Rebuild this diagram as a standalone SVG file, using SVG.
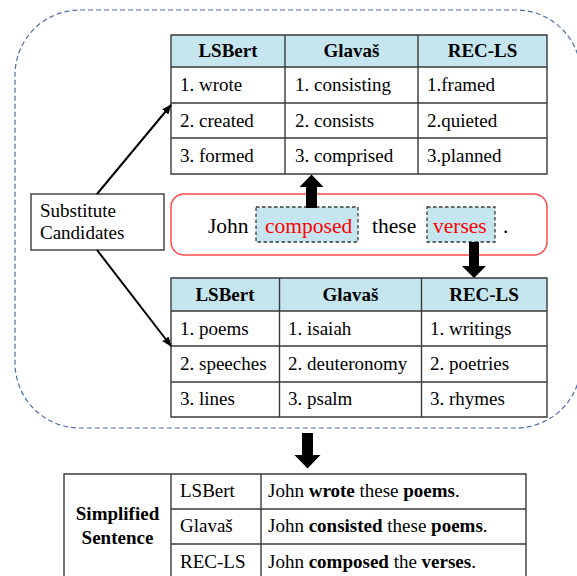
<svg xmlns="http://www.w3.org/2000/svg" width="577" height="576" viewBox="0 0 577 576" font-family="'Liberation Serif', 'Times New Roman', Times, 'DejaVu Serif', serif">
<style>
text{font-family:'Liberation Serif','Times New Roman',Times,'DejaVu Serif',serif;font-size:19px;fill:#000}
.h{font-weight:bold;text-anchor:middle}
.grid{fill:none;stroke:#3a3a3a;stroke-width:1.4}
.hdr{fill:#c6e6ef;stroke:none}
.cell{fill:#fff;stroke:none}
.sent{font-size:21.5px}
.red{fill:#ff0000}
.hl{fill:#c6e6ef;stroke:#3a3a3a;stroke-width:1.3;stroke-dasharray:3.5 2.5}
.conn{stroke:#000;stroke-width:2;fill:none}
.big{fill:#000;stroke:none}
</style>
<defs>
<marker id="ah" markerWidth="10" markerHeight="8" refX="9" refY="4" orient="auto" markerUnits="userSpaceOnUse">
<path d="M0,0 L10,4 L0,8 Z" fill="#000"/>
</marker>
</defs>

<g id="outer">
<rect x="15" y="10" width="566" height="418" rx="65" ry="65" fill="none" stroke="#4a6ea8" stroke-width="1.2" stroke-dasharray="5 3"/>
</g>

<g id="top-table">
<rect class="cell" x="171" y="35" width="376" height="139"/>
<rect class="hdr" x="171" y="35" width="376" height="32"/>
<path class="grid" d="M171,35H547V174H171Z M171,67H547 M171,103H547 M171,138H547 M285,35V174 M418,35V174"/>
<text class="h" x="228" y="57">LSBert</text>
<text class="h" x="351.5" y="57">Glavaš</text>
<text class="h" x="482.5" y="57">REC-LS</text>
<text x="180" y="91">1. wrote</text>
<text x="180" y="126.5">2. created</text>
<text x="180" y="162">3. formed</text>
<text x="295" y="91">1. consisting</text>
<text x="295" y="126.5">2. consists</text>
<text x="295" y="162">3. comprised</text>
<text x="427" y="91">1.framed</text>
<text x="427" y="126.5">2.quieted</text>
<text x="427" y="162">3.planned</text>
</g>

<g id="substitute">
<rect x="31" y="194" width="133" height="56" fill="#fff" stroke="#3a3a3a" stroke-width="1.4"/>
<text x="40" y="217">Substitute</text>
<text x="40" y="239">Candidates</text>
</g>

<g id="sentence">
<rect x="171" y="194" width="376" height="61" rx="13" ry="13" fill="#fff" stroke="#ff4a4a" stroke-width="1.5"/>
<rect class="hl" x="256" y="207" width="102" height="35"/>
<rect class="hl" x="427" y="207" width="68" height="35"/>
<text class="sent" x="208" y="233">John</text>
<text class="sent red" x="265" y="233">composed</text>
<text class="sent" x="372" y="233">these</text>
<text class="sent red" x="433" y="233">verses</text>
<text class="sent" x="503" y="233">.</text>
</g>

<g id="bottom-table">
<rect class="cell" x="171" y="278" width="376" height="139"/>
<rect class="hdr" x="171" y="278" width="376" height="33"/>
<path class="grid" d="M171,278H547V417H171Z M171,311H547 M171,346H547 M171,382H547 M279.5,278V417 M421.5,278V417"/>
<text class="h" x="225" y="301">LSBert</text>
<text class="h" x="350.5" y="301">Glavaš</text>
<text class="h" x="484" y="301">REC-LS</text>
<text x="180" y="334.5">1. poems</text>
<text x="180" y="370">2. speeches</text>
<text x="180" y="405">3. lines</text>
<text x="288" y="334.5">1. isaiah</text>
<text x="288" y="370">2. deuteronomy</text>
<text x="288" y="405">3. psalm</text>
<text x="430" y="334.5">1. writings</text>
<text x="430" y="370">2. poetries</text>
<text x="430" y="405">3. rhymes</text>
</g>

<g id="result-table">
<rect class="cell" x="64" y="474" width="462" height="110"/>
<path class="grid" d="M64,590V474H526V590 M171,474V590 M261,474V590 M171,509H526 M171,544H526"/>
<text class="h" x="117.5" y="520">Simplified</text>
<text class="h" x="117.5" y="543.5">Sentence</text>
<text x="180" y="497">LSBert</text>
<text x="180" y="532">Glavaš</text>
<text x="180" y="567.5">REC-LS</text>
<text x="268" y="497">John <tspan font-weight="bold">wrote</tspan> these <tspan font-weight="bold">poems</tspan>.</text>
<text x="268" y="532">John <tspan font-weight="bold">consisted</tspan> these <tspan font-weight="bold">poems</tspan>.</text>
<text x="268" y="567.5">John <tspan font-weight="bold">composed</tspan> the <tspan font-weight="bold">verses</tspan>.</text>
</g>

<g id="connectors">
<line class="conn" x1="97" y1="194" x2="171" y2="105" marker-end="url(#ah)"/>
<line class="conn" x1="97" y1="250" x2="171" y2="346" marker-end="url(#ah)"/>
<path class="big" d="M306,208V187H299.5L311.5,174.5L323.5,187H317V208Z"/>
<path class="big" d="M469,242V266H462L474,278L486,266H479V242Z"/>
<path class="big" d="M302,433V455H294.5L307.5,468.5L320.5,455H313V433Z"/>
</g>
</svg>
